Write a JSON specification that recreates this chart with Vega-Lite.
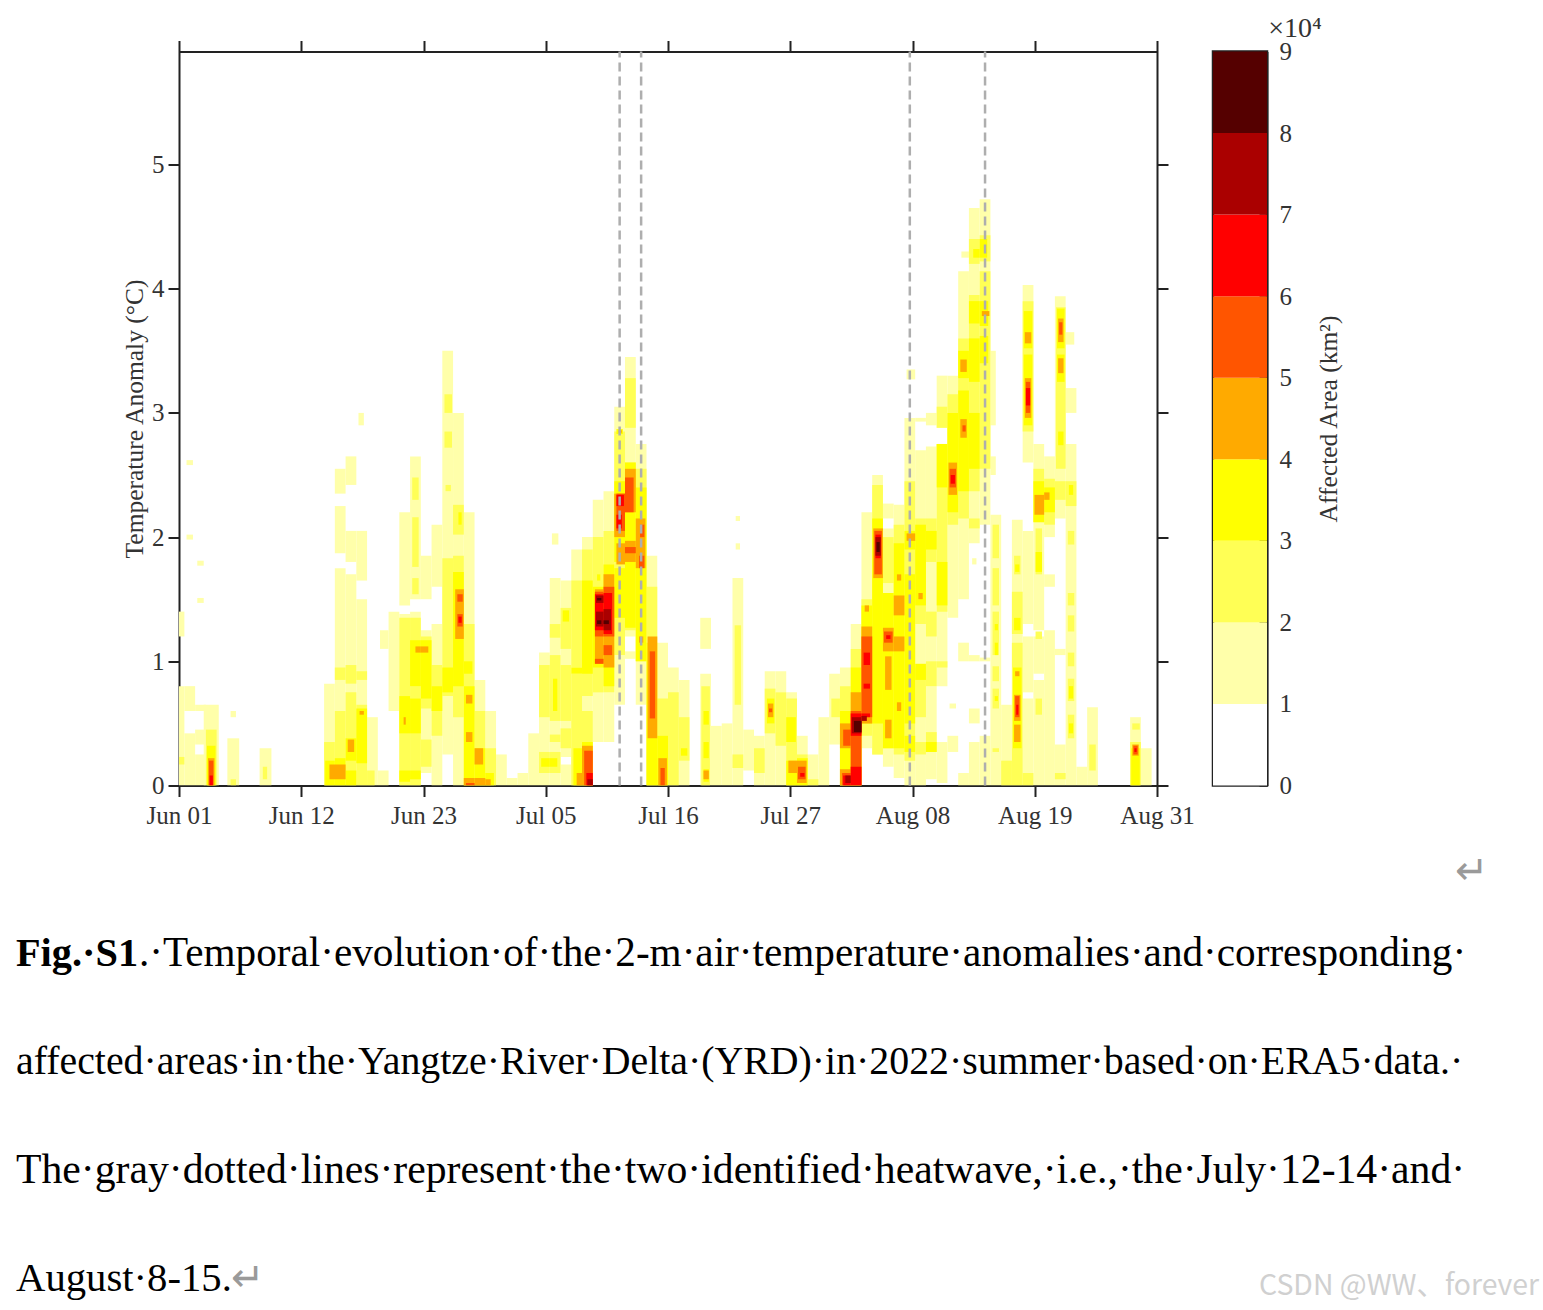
{"$schema":"https://vega.github.io/schema/vega-lite/v6.json","background":"white","padding":{"left":16,"top":12.5,"right":0,"bottom":0},"bounds":"flush","spacing":820,"config":{"view":{"stroke":null},"font":"Liberation Serif"},
"datasets":{"cells":[
{"s":-0.5,"e":0.5,"a":0,"b":0.8,"v":1},{"s":-0.5,"e":0.5,"a":1.2,"b":1.4,"v":1},{"s":-0.5,"e":0.5,"a":0.17,"b":0.23,"v":2},
{"s":0.5,"e":1.5,"a":0,"b":0.42,"v":1},{"s":0.5,"e":1.5,"a":0.6,"b":0.8,"v":1},{"s":0.7,"e":1.3,"a":2.58,"b":2.62,"v":1},{"s":0.7,"e":1.3,"a":1.98,"b":2.02,"v":1},
{"s":1.5,"e":2.5,"a":0,"b":0.25,"v":1},{"s":1.5,"e":2.5,"a":0.33,"b":0.45,"v":1},{"s":1.5,"e":2.5,"a":0.6,"b":0.65,"v":1},{"s":1.7,"e":2.3,"a":1.77,"b":1.81,"v":1},{"s":1.7,"e":2.3,"a":1.47,"b":1.51,"v":1},
{"s":2.3,"e":3.7,"a":0,"b":0.65,"v":1},{"s":2.5,"e":3.5,"a":0,"b":0.45,"v":2},{"s":2.6,"e":3.4,"a":0,"b":0.32,"v":3},{"s":2.7,"e":3.3,"a":0,"b":0.22,"v":4},{"s":2.8,"e":3.2,"a":0,"b":0.2,"v":5},{"s":2.85,"e":3.15,"a":0,"b":0.08,"v":6},
{"s":4.5,"e":5.6,"a":0,"b":0.38,"v":1},{"s":4.8,"e":5.3,"a":0.55,"b":0.6,"v":1},{"s":4.8,"e":5.3,"a":0,"b":0.05,"v":2},
{"s":7.5,"e":8.6,"a":0,"b":0.3,"v":1},{"s":7.8,"e":8.2,"a":0.05,"b":0.15,"v":2},
{"s":13.5,"e":14.5,"a":0,"b":0.82,"v":1},{"s":13.5,"e":14.5,"a":0,"b":0.35,"v":2},{"s":13.6,"e":14.5,"a":0,"b":0.2,"v":3},
{"s":14.5,"e":15.5,"a":0,"b":1.75,"v":1},{"s":14.5,"e":15.5,"a":1.87,"b":2.25,"v":1},{"s":14.5,"e":15.5,"a":2.35,"b":2.55,"v":1},{"s":14.5,"e":15.5,"a":0,"b":0.6,"v":2},{"s":14.5,"e":15.5,"a":0.85,"b":0.95,"v":2},{"s":14.5,"e":15.5,"a":0,"b":0.22,"v":3},{"s":14,"e":15.5,"a":0.05,"b":0.17,"v":4},
{"s":15.5,"e":16.5,"a":0,"b":1.7,"v":1},{"s":15.5,"e":16.5,"a":1.8,"b":2.05,"v":1},{"s":15.5,"e":16.5,"a":2.42,"b":2.65,"v":1},{"s":15.5,"e":16.5,"a":0,"b":0.75,"v":2},{"s":15.5,"e":16.5,"a":0.82,"b":0.97,"v":2},{"s":15.5,"e":16.5,"a":0,"b":0.12,"v":3},{"s":15.5,"e":16.5,"a":0.2,"b":0.38,"v":3},{"s":15.7,"e":16.3,"a":0.27,"b":0.37,"v":4},
{"s":16.5,"e":17.5,"a":0,"b":1.5,"v":1},{"s":16.5,"e":17.5,"a":1.65,"b":2.05,"v":1},{"s":16.7,"e":17.2,"a":2.9,"b":3.0,"v":1},{"s":16.5,"e":17.5,"a":0,"b":0.65,"v":2},{"s":16.5,"e":17.5,"a":0.85,"b":0.92,"v":2},{"s":16.5,"e":17.5,"a":0.18,"b":0.62,"v":3},{"s":16.8,"e":17.2,"a":0.57,"b":0.6,"v":4},
{"s":17.5,"e":18.5,"a":0,"b":0.55,"v":1},{"s":17.5,"e":18.2,"a":0,"b":0.12,"v":2},
{"s":18.5,"e":19.5,"a":0,"b":0.12,"v":1},{"s":18.7,"e":19.5,"a":1.1,"b":1.25,"v":1},
{"s":19.5,"e":20.5,"a":0.6,"b":1.4,"v":1},
{"s":20.5,"e":21.5,"a":0,"b":1.38,"v":1},{"s":20.5,"e":21.5,"a":1.45,"b":2.2,"v":1},{"s":20.5,"e":21.5,"a":0,"b":1.35,"v":2},{"s":20.5,"e":21.5,"a":0.42,"b":0.72,"v":3},{"s":20.5,"e":21.5,"a":0.03,"b":0.12,"v":3},{"s":20.9,"e":21.1,"a":0.49,"b":0.55,"v":4},
{"s":21.5,"e":22.5,"a":0,"b":1.4,"v":1},{"s":21.5,"e":22.5,"a":1.5,"b":2.65,"v":1},{"s":21.5,"e":22.5,"a":0,"b":1.35,"v":2},{"s":21.7,"e":22.3,"a":1.54,"b":1.67,"v":2},{"s":21.7,"e":22.3,"a":1.76,"b":2.16,"v":2},{"s":21.7,"e":22.3,"a":2.3,"b":2.48,"v":2},{"s":21.5,"e":22.5,"a":0.05,"b":0.12,"v":3},{"s":21.5,"e":22.5,"a":0.42,"b":0.7,"v":3},{"s":21.5,"e":22.5,"a":0.8,"b":1.17,"v":3},{"s":22,"e":22.5,"a":1.07,"b":1.12,"v":4},
{"s":22.5,"e":23.5,"a":0.1,"b":1.25,"v":1},{"s":22.5,"e":23.5,"a":1.5,"b":1.85,"v":1},{"s":22.5,"e":23.5,"a":0.15,"b":0.37,"v":2},{"s":22.5,"e":23.5,"a":0.62,"b":1.2,"v":2},{"s":22.5,"e":23.5,"a":0.7,"b":1.17,"v":3},{"s":22.5,"e":23.2,"a":1.07,"b":1.12,"v":4},
{"s":23.5,"e":24.5,"a":0,"b":1.3,"v":1},{"s":23.5,"e":24.5,"a":1.6,"b":2.1,"v":1},{"s":23.5,"e":24.5,"a":0.4,"b":0.97,"v":2},{"s":23.5,"e":24.5,"a":0.6,"b":0.8,"v":3},
{"s":24.5,"e":25.5,"a":0.25,"b":3.5,"v":1},{"s":24.5,"e":25.5,"a":0.72,"b":1.83,"v":2},{"s":24.8,"e":25.3,"a":2.37,"b":2.42,"v":2},{"s":24.7,"e":25.4,"a":2.72,"b":2.85,"v":2},{"s":24.7,"e":25.4,"a":3.0,"b":3.15,"v":2},{"s":24.5,"e":25.5,"a":0.75,"b":0.95,"v":3},
{"s":25.5,"e":26.5,"a":0,"b":3.0,"v":1},{"s":25.5,"e":26.5,"a":0.55,"b":1.85,"v":2},{"s":25.5,"e":26.5,"a":2.02,"b":2.26,"v":2},{"s":25.5,"e":26.5,"a":0.8,"b":1.72,"v":3},{"s":26,"e":26.3,"a":2.1,"b":2.2,"v":3},{"s":25.7,"e":26.5,"a":1.18,"b":1.58,"v":4},{"s":25.9,"e":26.4,"a":1.28,"b":1.38,"v":5},{"s":25.9,"e":26.4,"a":1.48,"b":1.54,"v":5},{"s":26,"e":26.3,"a":1.31,"b":1.36,"v":6},
{"s":26.5,"e":27.5,"a":0,"b":2.2,"v":1},{"s":26.5,"e":27.5,"a":0,"b":1.3,"v":2},{"s":26.5,"e":27.5,"a":0,"b":0.8,"v":3},{"s":26.5,"e":27.3,"a":0.9,"b":1.0,"v":3},{"s":26.7,"e":27.3,"a":0.66,"b":0.73,"v":4},{"s":26.7,"e":27.3,"a":0.35,"b":0.43,"v":4},{"s":26.5,"e":27.5,"a":0,"b":0.06,"v":4},{"s":26.7,"e":27.5,"a":0,"b":0.02,"v":5},
{"s":27.5,"e":28.5,"a":0,"b":0.85,"v":1},{"s":27.5,"e":28.5,"a":0,"b":0.6,"v":2},{"s":27.5,"e":28.5,"a":0,"b":0.3,"v":3},{"s":27.5,"e":28.3,"a":0.17,"b":0.3,"v":4},{"s":27.5,"e":28.5,"a":0,"b":0.06,"v":4},
{"s":28.5,"e":29.5,"a":0,"b":0.6,"v":1},{"s":28.5,"e":29.5,"a":0,"b":0.3,"v":2},{"s":28.5,"e":29.3,"a":0,"b":0.1,"v":3},{"s":28.5,"e":29,"a":0,"b":0.05,"v":4},
{"s":29.5,"e":30.5,"a":0,"b":0.25,"v":1},{"s":30.5,"e":31.5,"a":0,"b":0.06,"v":1},{"s":31.5,"e":32.5,"a":0,"b":0.1,"v":1},
{"s":32.5,"e":33.5,"a":0,"b":0.42,"v":1},
{"s":33.5,"e":34.5,"a":0,"b":1.07,"v":1},{"s":33.5,"e":34.5,"a":0.1,"b":0.27,"v":2},{"s":33.5,"e":34.5,"a":0.55,"b":0.97,"v":2},{"s":33.7,"e":34.5,"a":0.15,"b":0.22,"v":3},
{"s":34.5,"e":35.5,"a":0,"b":1.67,"v":1},{"s":34.7,"e":35.3,"a":1.94,"b":2.03,"v":1},{"s":34.5,"e":35.5,"a":0.1,"b":0.27,"v":2},{"s":34.5,"e":35.5,"a":0.35,"b":0.41,"v":2},{"s":34.5,"e":35.5,"a":0.52,"b":1.05,"v":2},{"s":34.5,"e":35.5,"a":1.19,"b":1.3,"v":2},{"s":34.8,"e":35.2,"a":0.6,"b":0.86,"v":3},{"s":34.5,"e":35.2,"a":0.15,"b":0.22,"v":3},
{"s":35.5,"e":36.5,"a":0,"b":0.17,"v":1},{"s":35.5,"e":36.5,"a":0.23,"b":1.65,"v":1},{"s":35.5,"e":36.5,"a":0.3,"b":0.46,"v":2},{"s":35.5,"e":36.5,"a":0.52,"b":0.97,"v":2},{"s":35.5,"e":36.5,"a":1.1,"b":1.43,"v":2},{"s":35.7,"e":36.3,"a":1.32,"b":1.41,"v":3},
{"s":36.5,"e":37.5,"a":0,"b":1.9,"v":1},{"s":36.5,"e":37.5,"a":0,"b":0.9,"v":2},{"s":36.5,"e":37.5,"a":0.95,"b":1.65,"v":2},{"s":36.7,"e":37.5,"a":0,"b":0.3,"v":3},{"s":36.5,"e":37.5,"a":0.9,"b":0.95,"v":3},{"s":37,"e":37.5,"a":0,"b":0.1,"v":4},
{"s":37.5,"e":38.5,"a":0,"b":2.0,"v":1},{"s":37.5,"e":38.5,"a":0,"b":0.6,"v":2},{"s":37.5,"e":38.5,"a":0.72,"b":1.9,"v":2},{"s":37.5,"e":38.5,"a":0,"b":0.35,"v":3},{"s":37.5,"e":38.5,"a":0.9,"b":1.65,"v":3},{"s":37.5,"e":38.5,"a":0,"b":0.32,"v":4},{"s":37.7,"e":38.5,"a":0,"b":0.28,"v":5},{"s":37.9,"e":38.5,"a":0,"b":0.1,"v":6},{"s":38,"e":38.5,"a":0,"b":0.05,"v":7},
{"s":38.5,"e":39.5,"a":0.35,"b":2.3,"v":1},{"s":38.5,"e":39.5,"a":0.75,"b":1.15,"v":2},{"s":38.5,"e":39.5,"a":1.28,"b":2.0,"v":2},{"s":38.5,"e":39.5,"a":0.95,"b":1.6,"v":3},{"s":38.9,"e":39.2,"a":1.65,"b":1.7,"v":3},{"s":38.7,"e":39.5,"a":0.98,"b":1.58,"v":4},{"s":38.7,"e":39.5,"a":1.2,"b":1.56,"v":5},{"s":38.7,"e":39.5,"a":0.98,"b":1.02,"v":5},{"s":38.7,"e":39.5,"a":1.25,"b":1.54,"v":6},{"s":38.8,"e":39.5,"a":1.47,"b":1.53,"v":7},{"s":38.8,"e":39.5,"a":1.28,"b":1.4,"v":7},{"s":38.9,"e":39.3,"a":1.49,"b":1.51,"v":8},{"s":38.9,"e":39.3,"a":1.3,"b":1.33,"v":8},
{"s":39.5,"e":40.5,"a":0.35,"b":2.37,"v":1},{"s":39.5,"e":40.5,"a":0.75,"b":2.05,"v":2},{"s":39.5,"e":40.5,"a":0.8,"b":1.78,"v":3},{"s":39.5,"e":40.5,"a":0.95,"b":1.7,"v":4},{"s":39.5,"e":40.3,"a":1.05,"b":1.13,"v":5},{"s":39.5,"e":40.5,"a":1.2,"b":1.6,"v":5},{"s":39.5,"e":40.3,"a":1.22,"b":1.55,"v":6},{"s":39.5,"e":40.2,"a":1.25,"b":1.42,"v":7},{"s":39.5,"e":40,"a":1.3,"b":1.33,"v":8},
{"s":40.5,"e":41.5,"a":0.65,"b":3.05,"v":1},{"s":40.5,"e":41.5,"a":1.05,"b":2.85,"v":2},{"s":40.5,"e":41.5,"a":1.35,"b":1.75,"v":3},{"s":40.5,"e":41.5,"a":1.8,"b":2.45,"v":3},{"s":40.7,"e":41.3,"a":2.83,"b":2.87,"v":3},{"s":40.7,"e":41.5,"a":1.78,"b":1.95,"v":4},{"s":40.5,"e":41.5,"a":2.0,"b":2.35,"v":4},{"s":40.9,"e":41.2,"a":2.84,"b":2.86,"v":4},{"s":40.7,"e":41.5,"a":2.05,"b":2.35,"v":5},{"s":40.7,"e":41.2,"a":2.07,"b":2.18,"v":6},{"s":40.7,"e":41.4,"a":2.25,"b":2.34,"v":6},
{"s":41.5,"e":42.5,"a":1.02,"b":1.08,"v":1},{"s":41.5,"e":42.5,"a":1.2,"b":3.45,"v":1},{"s":41.5,"e":42.5,"a":1.25,"b":2.6,"v":2},{"s":41.5,"e":42.5,"a":2.88,"b":3.28,"v":2},{"s":41.5,"e":42.5,"a":1.27,"b":2.6,"v":3},{"s":41.5,"e":42.5,"a":1.8,"b":1.97,"v":4},{"s":41.5,"e":42.5,"a":2.2,"b":2.55,"v":4},{"s":41.5,"e":42.5,"a":1.87,"b":1.92,"v":5},{"s":41.5,"e":42.3,"a":2.2,"b":2.48,"v":5},
{"s":42.5,"e":43.5,"a":0.65,"b":2.75,"v":1},{"s":42.5,"e":43.5,"a":1.0,"b":2.55,"v":2},{"s":42.5,"e":43.5,"a":1.0,"b":2.4,"v":3},{"s":42.5,"e":43.4,"a":1.75,"b":2.15,"v":4},{"s":42.8,"e":43.2,"a":1.15,"b":1.2,"v":4},{"s":42.8,"e":43.3,"a":1.75,"b":1.85,"v":5},{"s":42.9,"e":43.3,"a":2.0,"b":2.1,"v":5},
{"s":43.5,"e":44.5,"a":0,"b":1.85,"v":1},{"s":43.5,"e":44.5,"a":0,"b":1.6,"v":2},{"s":43.5,"e":44.5,"a":0,"b":1.15,"v":3},{"s":43.6,"e":44.5,"a":0.38,"b":1.2,"v":4},{"s":43.8,"e":44.3,"a":0.54,"b":1.08,"v":5},
{"s":44.5,"e":45.5,"a":0,"b":1.15,"v":1},{"s":44.5,"e":45.5,"a":0,"b":0.7,"v":2},{"s":44.5,"e":45.5,"a":0,"b":0.4,"v":3},{"s":44.6,"e":45.4,"a":0,"b":0.22,"v":4},{"s":44.8,"e":45.2,"a":0,"b":0.14,"v":5},
{"s":45.5,"e":46.5,"a":0,"b":0.95,"v":1},{"s":45.5,"e":46.5,"a":0,"b":0.75,"v":2},
{"s":46.5,"e":47.5,"a":0,"b":0.85,"v":1},{"s":46.5,"e":47.5,"a":0.2,"b":0.55,"v":2},{"s":46.7,"e":47.3,"a":0.24,"b":0.3,"v":3},
{"s":48.5,"e":49.5,"a":0,"b":0.9,"v":1},{"s":48.5,"e":49.5,"a":1.1,"b":1.35,"v":1},{"s":48.6,"e":49.4,"a":0,"b":0.8,"v":2},{"s":48.8,"e":49.3,"a":0.03,"b":0.13,"v":3},{"s":48.8,"e":49.3,"a":0.22,"b":0.35,"v":3},{"s":48.8,"e":49.3,"a":0.49,"b":0.6,"v":3},{"s":48.8,"e":49.3,"a":0.05,"b":0.12,"v":4},
{"s":49.5,"e":50.5,"a":0,"b":0.48,"v":1},{"s":50.5,"e":51.5,"a":0,"b":0.5,"v":1},
{"s":51.5,"e":52.5,"a":0,"b":1.67,"v":1},{"s":51.8,"e":52.2,"a":2.13,"b":2.17,"v":1},{"s":51.8,"e":52.2,"a":1.9,"b":1.95,"v":1},{"s":51.7,"e":52.3,"a":0.65,"b":1.29,"v":2},{"s":51.5,"e":52.5,"a":0.14,"b":0.25,"v":2},
{"s":52.5,"e":53.5,"a":0.12,"b":0.45,"v":1},{"s":53.5,"e":54.5,"a":0,"b":0.4,"v":1},{"s":53.5,"e":54.5,"a":0.1,"b":0.3,"v":2},
{"s":54.5,"e":55.5,"a":0,"b":0.92,"v":1},{"s":54.5,"e":55.5,"a":0.42,"b":0.78,"v":2},{"s":54.7,"e":55.4,"a":0.5,"b":0.7,"v":3},{"s":54.8,"e":55.3,"a":0.55,"b":0.66,"v":4},{"s":54.9,"e":55.2,"a":0.59,"b":0.62,"v":5},
{"s":55.5,"e":56.5,"a":0,"b":0.92,"v":1},{"s":55.5,"e":56.5,"a":0.32,"b":0.75,"v":2},
{"s":56.5,"e":57.5,"a":0,"b":0.75,"v":1},{"s":56.5,"e":57.5,"a":0,"b":0.7,"v":2},{"s":56.5,"e":57.5,"a":0,"b":0.2,"v":3},{"s":56.5,"e":57.4,"a":0.35,"b":0.55,"v":3},{"s":56.7,"e":57.5,"a":0.1,"b":0.2,"v":4},
{"s":57.5,"e":58.5,"a":0,"b":0.4,"v":1},{"s":57.5,"e":58.5,"a":0,"b":0.25,"v":2},{"s":57.5,"e":58.5,"a":0,"b":0.22,"v":3},{"s":57.5,"e":58.4,"a":0.02,"b":0.2,"v":4},{"s":57.6,"e":58.3,"a":0.05,"b":0.15,"v":5},{"s":57.8,"e":58.2,"a":0.07,"b":0.1,"v":6},
{"s":58.5,"e":59.5,"a":0,"b":0.25,"v":1},{"s":58.5,"e":59.5,"a":0,"b":0.05,"v":2},
{"s":59.5,"e":60.5,"a":0,"b":0.55,"v":1},
{"s":60.5,"e":61.5,"a":0.33,"b":0.9,"v":1},{"s":60.7,"e":61.5,"a":0.55,"b":0.7,"v":2},
{"s":61.5,"e":62.5,"a":0,"b":0.95,"v":1},{"s":61.5,"e":62.5,"a":0,"b":0.8,"v":2},{"s":61.5,"e":62.5,"a":0,"b":0.6,"v":3},{"s":61.5,"e":62.5,"a":0,"b":0.13,"v":4},{"s":61.5,"e":62.5,"a":0.3,"b":0.5,"v":4},{"s":61.7,"e":62.5,"a":0,"b":0.1,"v":5},{"s":61.8,"e":62.5,"a":0.32,"b":0.45,"v":5},{"s":61.8,"e":62.5,"a":0,"b":0.08,"v":6},{"s":62,"e":62.5,"a":0.02,"b":0.08,"v":7},
{"s":62.5,"e":63.5,"a":0,"b":1.3,"v":1},{"s":62.5,"e":63.5,"a":0,"b":1.1,"v":2},{"s":62.5,"e":63.5,"a":0,"b":0.95,"v":3},{"s":62.5,"e":63.5,"a":0,"b":0.75,"v":4},{"s":62.5,"e":63.5,"a":0,"b":0.6,"v":5},{"s":62.5,"e":63.5,"a":0,"b":0.15,"v":6},{"s":62.5,"e":63.5,"a":0.4,"b":0.58,"v":6},{"s":62.6,"e":63.5,"a":0.42,"b":0.55,"v":7},{"s":62.8,"e":63.5,"a":0.43,"b":0.52,"v":8},
{"s":63.5,"e":64.5,"a":0.3,"b":2.2,"v":1},{"s":63.5,"e":64.5,"a":0.4,"b":1.5,"v":2},{"s":63.5,"e":64.5,"a":0.5,"b":1.45,"v":3},{"s":63.5,"e":64.5,"a":0.5,"b":1.28,"v":4},{"s":63.8,"e":64.2,"a":1.4,"b":1.45,"v":4},{"s":63.5,"e":64.5,"a":0.55,"b":1.2,"v":5},{"s":63.7,"e":64.3,"a":0.97,"b":1.07,"v":6},{"s":63.7,"e":64.3,"a":0.78,"b":0.82,"v":6},{"s":63.5,"e":64.3,"a":0.55,"b":0.58,"v":6},{"s":63.5,"e":64,"a":0.52,"b":0.56,"v":7},
{"s":64.5,"e":65.5,"a":0.25,"b":2.5,"v":1},{"s":64.5,"e":65.5,"a":0.25,"b":2.42,"v":2},{"s":64.5,"e":65.5,"a":0.5,"b":2.15,"v":3},{"s":64.6,"e":65.5,"a":1.67,"b":2.07,"v":4},{"s":64.7,"e":65.4,"a":1.7,"b":2.05,"v":5},{"s":64.8,"e":65.3,"a":1.83,"b":2.02,"v":6},{"s":64.8,"e":65.3,"a":1.85,"b":2.0,"v":7},{"s":64.9,"e":65.2,"a":1.88,"b":1.96,"v":8},
{"s":65.5,"e":66.5,"a":0.15,"b":2.07,"v":1},{"s":65.5,"e":66.5,"a":2.15,"b":2.27,"v":1},{"s":65.5,"e":66.5,"a":0.3,"b":1.55,"v":2},{"s":65.5,"e":66.5,"a":1.63,"b":2.0,"v":2},{"s":65.5,"e":66.5,"a":0.3,"b":1.55,"v":3},{"s":65.7,"e":66.3,"a":0.38,"b":0.53,"v":4},{"s":65.7,"e":66.3,"a":0.77,"b":1.04,"v":4},{"s":65.5,"e":66.5,"a":1.08,"b":1.27,"v":4},{"s":65.6,"e":66.4,"a":1.15,"b":1.24,"v":5},{"s":65.8,"e":66.2,"a":1.18,"b":1.21,"v":6},
{"s":66.5,"e":67.5,"a":0.06,"b":2.26,"v":1},{"s":66.5,"e":67.5,"a":0.25,"b":2.1,"v":2},{"s":66.5,"e":67.5,"a":0.3,"b":1.95,"v":3},{"s":66.5,"e":67.5,"a":1.08,"b":1.2,"v":4},{"s":66.5,"e":67.5,"a":1.37,"b":1.53,"v":4},{"s":66.8,"e":67.2,"a":1.65,"b":1.7,"v":4},{"s":66.8,"e":67.2,"a":0.6,"b":0.67,"v":4},
{"s":67.5,"e":68.5,"a":0,"b":2.96,"v":1},{"s":67.7,"e":68.5,"a":3.27,"b":3.35,"v":1},{"s":67.5,"e":68.5,"a":0.2,"b":2.45,"v":2},{"s":67.5,"e":68.5,"a":0.27,"b":0.4,"v":3},{"s":67.5,"e":68.5,"a":0.5,"b":1.7,"v":3},{"s":67.5,"e":68.5,"a":1.9,"b":2.05,"v":3},{"s":67.7,"e":68.5,"a":1.97,"b":2.03,"v":4},
{"s":68.5,"e":69.5,"a":0,"b":2.7,"v":1},{"s":68.5,"e":69.5,"a":2.93,"b":2.96,"v":1},{"s":68.5,"e":69.5,"a":0.25,"b":0.35,"v":2},{"s":68.5,"e":69.5,"a":0.55,"b":0.95,"v":2},{"s":68.5,"e":69.5,"a":1.3,"b":2.15,"v":2},{"s":68.5,"e":69.5,"a":0.85,"b":0.98,"v":3},{"s":68.5,"e":69.5,"a":1.45,"b":2.1,"v":3},{"s":68.8,"e":69.2,"a":1.5,"b":1.55,"v":4},
{"s":69.5,"e":70.5,"a":0.05,"b":2.73,"v":1},{"s":69.5,"e":70.5,"a":2.9,"b":3.0,"v":1},{"s":69.5,"e":70.5,"a":0.27,"b":0.43,"v":2},{"s":69.5,"e":70.5,"a":0.8,"b":1.0,"v":2},{"s":69.5,"e":70.5,"a":1.2,"b":1.4,"v":2},{"s":69.5,"e":70.5,"a":1.8,"b":2.15,"v":2},{"s":69.5,"e":70.5,"a":0.27,"b":0.35,"v":3},{"s":69.5,"e":70.5,"a":1.9,"b":2.05,"v":3},
{"s":70.5,"e":71.5,"a":0.02,"b":0.35,"v":1},{"s":70.5,"e":71.5,"a":0.8,"b":2.75,"v":1},{"s":70.5,"e":71.5,"a":2.88,"b":3.3,"v":1},{"s":70.5,"e":71.5,"a":0.95,"b":1.0,"v":2},{"s":70.5,"e":71.5,"a":1.4,"b":2.75,"v":2},{"s":70.5,"e":71.5,"a":2.88,"b":3.05,"v":2},{"s":70.5,"e":71.5,"a":1.45,"b":1.8,"v":3},{"s":70.5,"e":71.5,"a":2.4,"b":2.75,"v":3},
{"s":71.5,"e":72.5,"a":1.35,"b":3.3,"v":1},{"s":71.5,"e":72.5,"a":0.27,"b":0.4,"v":1},{"s":71.7,"e":72.3,"a":0.62,"b":0.66,"v":1},{"s":71.5,"e":72.5,"a":2.1,"b":3.15,"v":2},{"s":71.5,"e":72.5,"a":2.2,"b":3.0,"v":3},{"s":71.6,"e":72.4,"a":2.34,"b":2.6,"v":4},{"s":71.7,"e":72.3,"a":2.4,"b":2.55,"v":5},{"s":71.8,"e":72.2,"a":2.43,"b":2.5,"v":6},
{"s":72.5,"e":73.5,"a":1.5,"b":4.14,"v":1},{"s":72.8,"e":73.5,"a":4.25,"b":4.3,"v":1},{"s":72.5,"e":73.5,"a":1.0,"b":1.15,"v":1},{"s":72.5,"e":73.5,"a":0,"b":0.1,"v":1},{"s":72.5,"e":73.5,"a":2.15,"b":3.6,"v":2},{"s":72.5,"e":73.5,"a":2.37,"b":3.18,"v":3},{"s":72.5,"e":73.5,"a":3.28,"b":3.5,"v":3},{"s":72.7,"e":73.3,"a":2.8,"b":2.95,"v":4},{"s":72.7,"e":73.3,"a":3.33,"b":3.43,"v":4},{"s":72.9,"e":73.2,"a":2.85,"b":2.9,"v":5},
{"s":73.5,"e":74.5,"a":0,"b":0.35,"v":1},{"s":73.5,"e":74.5,"a":0.5,"b":0.62,"v":1},{"s":73.5,"e":74.5,"a":1.0,"b":1.05,"v":1},{"s":73.8,"e":74.2,"a":1.78,"b":1.83,"v":1},{"s":73.5,"e":74.5,"a":1.95,"b":4.65,"v":1},{"s":73.5,"e":74.5,"a":2.07,"b":2.15,"v":2},{"s":73.5,"e":74.5,"a":2.37,"b":3.95,"v":2},{"s":73.5,"e":74.5,"a":4.2,"b":4.4,"v":2},{"s":73.5,"e":74.5,"a":2.55,"b":3.0,"v":3},{"s":73.5,"e":74.5,"a":3.25,"b":3.6,"v":3},{"s":73.5,"e":74.5,"a":3.72,"b":3.9,"v":3},{"s":73.9,"e":74.5,"a":4.25,"b":4.32,"v":3},
{"s":74.5,"e":75.5,"a":0,"b":0.4,"v":1},{"s":74.5,"e":75.5,"a":1.0,"b":1.03,"v":1},{"s":74.5,"e":75.5,"a":2.1,"b":4.72,"v":1},{"s":74.5,"e":75.5,"a":2.55,"b":4.14,"v":2},{"s":74.5,"e":75.5,"a":4.22,"b":4.43,"v":2},{"s":74.5,"e":75.3,"a":3.4,"b":3.62,"v":3},{"s":74.5,"e":75.3,"a":3.7,"b":3.9,"v":3},{"s":74.5,"e":75.2,"a":4.25,"b":4.4,"v":3},{"s":74.7,"e":75.4,"a":3.78,"b":3.82,"v":4},
{"s":75.5,"e":76.5,"a":0,"b":2.18,"v":1},{"s":75.5,"e":76,"a":2.5,"b":2.65,"v":1},{"s":75.5,"e":76,"a":2.9,"b":3.5,"v":1},{"s":75.7,"e":76.3,"a":0.27,"b":0.3,"v":2},{"s":75.7,"e":76.3,"a":0.62,"b":0.78,"v":2},{"s":75.7,"e":76.3,"a":0.84,"b":0.96,"v":2},{"s":75.7,"e":76.3,"a":1.05,"b":1.4,"v":2},{"s":75.7,"e":76.3,"a":1.45,"b":1.75,"v":2},{"s":75.7,"e":76.3,"a":1.83,"b":2.1,"v":2},{"s":75.9,"e":76.2,"a":0.68,"b":0.72,"v":3},{"s":75.9,"e":76.2,"a":1.05,"b":1.15,"v":3},{"s":75.9,"e":76.2,"a":1.25,"b":1.3,"v":3},
{"s":76.5,"e":77.5,"a":0,"b":0.65,"v":1},{"s":76.5,"e":77.5,"a":0,"b":0.2,"v":2},
{"s":77.5,"e":78.5,"a":0,"b":2.14,"v":1},{"s":77.5,"e":78.5,"a":0,"b":1.15,"v":2},{"s":77.5,"e":78.5,"a":1.22,"b":1.56,"v":2},{"s":77.7,"e":78.3,"a":1.7,"b":1.85,"v":2},{"s":77.6,"e":78.4,"a":0.3,"b":0.95,"v":3},{"s":77.7,"e":78.3,"a":1.25,"b":1.35,"v":3},{"s":77.8,"e":78.2,"a":1.72,"b":1.78,"v":3},{"s":77.7,"e":78.3,"a":0.35,"b":0.49,"v":4},{"s":77.7,"e":78.3,"a":0.52,"b":0.73,"v":4},{"s":77.8,"e":78.2,"a":0.88,"b":0.92,"v":4},{"s":77.8,"e":78.2,"a":0.55,"b":0.72,"v":5},{"s":77.9,"e":78.1,"a":0.57,"b":0.65,"v":6},
{"s":78.5,"e":79.5,"a":0,"b":0.7,"v":1},{"s":78.5,"e":79.5,"a":0.75,"b":1.2,"v":1},{"s":78.5,"e":79.5,"a":1.3,"b":2.05,"v":1},{"s":78.5,"e":79.5,"a":2.6,"b":4.03,"v":1},{"s":78.5,"e":79.5,"a":0,"b":0.1,"v":2},{"s":78.5,"e":79.5,"a":2.85,"b":3.9,"v":2},{"s":78.6,"e":79.4,"a":2.9,"b":3.47,"v":3},{"s":78.6,"e":79.4,"a":3.52,"b":3.82,"v":3},{"s":78.7,"e":79.3,"a":2.96,"b":3.28,"v":4},{"s":78.7,"e":79.3,"a":3.56,"b":3.65,"v":4},{"s":78.8,"e":79.2,"a":3.0,"b":3.25,"v":5},{"s":78.8,"e":79.2,"a":3.06,"b":3.2,"v":6},
{"s":79.5,"e":80.5,"a":0,"b":0.85,"v":1},{"s":79.5,"e":80.5,"a":0.9,"b":1.2,"v":1},{"s":79.5,"e":80.5,"a":1.25,"b":2.75,"v":1},{"s":79.7,"e":80.3,"a":0.57,"b":0.7,"v":2},{"s":79.7,"e":80.3,"a":1.18,"b":1.24,"v":2},{"s":79.7,"e":80.3,"a":1.7,"b":2.07,"v":2},{"s":79.5,"e":80.5,"a":2.12,"b":2.55,"v":2},{"s":79.7,"e":80.3,"a":1.72,"b":1.88,"v":3},{"s":79.5,"e":80.5,"a":2.12,"b":2.45,"v":3},{"s":79.6,"e":80.5,"a":2.18,"b":2.34,"v":4},
{"s":80.5,"e":81.5,"a":0,"b":1.25,"v":1},{"s":80.5,"e":81.5,"a":1.6,"b":1.7,"v":1},{"s":80.5,"e":81.5,"a":2.0,"b":2.65,"v":1},{"s":80.5,"e":81.5,"a":2.1,"b":2.47,"v":2},{"s":80.5,"e":81.5,"a":2.2,"b":2.4,"v":3},{"s":80.5,"e":81,"a":2.3,"b":2.36,"v":4},
{"s":81.5,"e":82.5,"a":0,"b":0.33,"v":1},{"s":81.5,"e":82.5,"a":1.05,"b":1.1,"v":1},{"s":81.5,"e":82.5,"a":2.15,"b":3.94,"v":1},{"s":81.5,"e":82.5,"a":0.05,"b":0.1,"v":2},{"s":81.5,"e":82.5,"a":2.3,"b":2.45,"v":2},{"s":81.6,"e":82.5,"a":2.55,"b":3.85,"v":2},{"s":81.8,"e":82.3,"a":2.74,"b":2.85,"v":3},{"s":81.7,"e":82.4,"a":3.25,"b":3.47,"v":3},{"s":81.7,"e":82.4,"a":3.52,"b":3.84,"v":3},{"s":81.8,"e":82.3,"a":3.32,"b":3.44,"v":4},{"s":81.8,"e":82.3,"a":3.57,"b":3.76,"v":4},{"s":81.9,"e":82.2,"a":3.63,"b":3.73,"v":5},
{"s":82.5,"e":83.5,"a":0,"b":2.75,"v":1},{"s":82.5,"e":83.5,"a":3.0,"b":3.2,"v":1},{"s":82.5,"e":83.3,"a":3.55,"b":3.65,"v":1},{"s":82.7,"e":83.3,"a":0.38,"b":0.57,"v":2},{"s":82.7,"e":83.3,"a":0.68,"b":0.86,"v":2},{"s":82.7,"e":83.3,"a":0.96,"b":1.07,"v":2},{"s":82.7,"e":83.3,"a":1.24,"b":1.37,"v":2},{"s":82.7,"e":83.3,"a":1.45,"b":1.55,"v":2},{"s":82.7,"e":83.3,"a":1.94,"b":2.05,"v":2},{"s":82.5,"e":83.5,"a":2.25,"b":2.45,"v":2},{"s":82.8,"e":83.2,"a":0.42,"b":0.5,"v":3},{"s":82.8,"e":83.2,"a":0.7,"b":0.8,"v":3},{"s":82.8,"e":83.2,"a":2.34,"b":2.42,"v":3},
{"s":83.5,"e":84.5,"a":0,"b":0.15,"v":1},
{"s":84.5,"e":85.5,"a":0,"b":0.63,"v":1},{"s":84.7,"e":85.3,"a":0.12,"b":0.33,"v":2},
{"s":88.5,"e":89.5,"a":0,"b":0.55,"v":1},{"s":88.5,"e":89.5,"a":0,"b":0.35,"v":2},{"s":88.7,"e":89.4,"a":0.45,"b":0.5,"v":2},{"s":88.6,"e":89.4,"a":0,"b":0.3,"v":3},{"s":88.7,"e":89.3,"a":0.24,"b":0.33,"v":4},{"s":88.8,"e":89.2,"a":0.25,"b":0.32,"v":5},{"s":88.9,"e":89.1,"a":0.27,"b":0.3,"v":6},
{"s":89.5,"e":90.5,"a":0,"b":0.3,"v":1}
]},
"vconcat":[
{"hconcat":[
{"width":978,"height":734,"layer":[
{"data":{"name":"cells"},"mark":{"type":"rect","clip":true,"strokeWidth":0},"encoding":{
"x":{"field":"s","type":"quantitative","scale":{"domain":[0,91],"nice":false,"zero":false},"axis":{"orient":"bottom","title":null,"values":[0,11.375,22.75,34.125,45.5,56.875,68.25,79.625,91],"labelExpr":"['Jun 01','Jun 12','Jun 23','Jul 05','Jul 16','Jul 27','Aug 08','Aug 19','Aug 31'][round(datum.value/11.375)]","labelFlush":false,"grid":false,"domainColor":"#222","domainWidth":2,"tickColor":"#222","tickWidth":2,"tickSize":11,"labelFont":"Liberation Serif","labelFontSize":25,"labelColor":"#333","labelPadding":7}},
"x2":{"field":"e"},
"y":{"field":"a","type":"quantitative","scale":{"domain":[0,5.91],"nice":false,"zero":false},"axis":{"orient":"left","title":"Temperature Anomaly (°C)","values":[0,1,2,3,4,5],"grid":false,"domainColor":"#222","domainWidth":2,"tickColor":"#222","tickWidth":2,"tickSize":11,"labelFont":"Liberation Serif","labelFontSize":25,"labelColor":"#333","labelPadding":4,"titleFont":"Liberation Serif","titleFontSize":25.5,"titleFontWeight":"normal","titleColor":"#333","titlePadding":4}},
"y2":{"field":"b"},
"color":{"field":"v","type":"ordinal","legend":null,"scale":{"domain":[0,1,2,3,4,5,6,7,8],"range":["#FFFFFF","#FFFFAA","#FFFF55","#FFFF00","#FFAA00","#FF5500","#FF0000","#AA0000","#550000"]}},
"order":{"field":"v","type":"quantitative"}}},
{"data":{"values":[{"day":41},{"day":43},{"day":68},{"day":75}]},"mark":{"type":"rule","color":"#AEAEAE","strokeWidth":2.5,"strokeDash":[9,5]},"encoding":{
"x":{"field":"day","type":"quantitative","axis":{"orient":"top","title":null,"labels":false,"values":[0,11.375,22.75,34.125,45.5,56.875,68.25,79.625,91],"grid":false,"domainColor":"#222","domainWidth":2,"tickColor":"#222","tickWidth":2,"tickSize":11}},
"y":{"datum":0,"type":"quantitative","axis":{"orient":"right","title":null,"labels":false,"values":[0,1,2,3,4,5],"grid":false,"domainColor":"#222","domainWidth":2,"tickColor":"#222","tickWidth":2,"tickSize":11}},
"y2":{"datum":5.91}}}
],"resolve":{"axis":{"x":"independent","y":"independent"}}},
{"width":54,"height":734,"view":{"stroke":"#222","strokeWidth":2.5},"layer":[
{"data":{"values":[{"v":0,"t":1},{"v":1,"t":2},{"v":2,"t":3},{"v":3,"t":4},{"v":4,"t":5},{"v":5,"t":6},{"v":6,"t":7},{"v":7,"t":8},{"v":8,"t":9}]},"mark":{"type":"rect","strokeWidth":0},"encoding":{
"x":{"datum":0,"type":"quantitative","scale":{"domain":[0,1],"nice":false},"axis":null},"x2":{"datum":1},
"y":{"field":"v","type":"quantitative","scale":{"domain":[0,9],"nice":false},"axis":{"orient":"right","title":"Affected Area (km²)","values":[0,1,2,3,4,5,6,7,8,9],"format":".0f","grid":false,"domainColor":"#222","domainWidth":2,"tickColor":"#222","tickWidth":1.5,"tickSize":-8,"labelFont":"Liberation Serif","labelFontSize":25,"labelColor":"#333","labelPadding":20,"titleFont":"Liberation Serif","titleFontSize":25.5,"titleFontWeight":"normal","titleColor":"#333","titleAngle":270,"titlePadding":50}},
"y2":{"field":"t"},
"color":{"field":"v","type":"ordinal","legend":null,"scale":{"domain":[0,1,2,3,4,5,6,7,8],"range":["#FFFFFF","#FFFFAA","#FFFF55","#FFFF00","#FFAA00","#FF5500","#FF0000","#AA0000","#550000"]}}}},
{"data":{"values":[{"t":"×10⁴"}]},"mark":{"type":"text","font":"Liberation Serif","fontSize":28,"color":"#333","clip":false},"encoding":{"x":{"datum":1.52,"type":"quantitative"},"y":{"datum":9.28,"type":"quantitative"},"text":{"field":"t"}}}
]}
],"spacing":56,"bounds":"flush"},
{"width":1364,"height":430,"encoding":{"x":{"datum":16,"type":"quantitative","scale":{"domain":[179,1543],"nice":false,"zero":false},"axis":null},"y":{"field":"line","type":"quantitative","scale":{"domain":[0.243,4.21],"reverse":true,"nice":false,"zero":false},"axis":null},"text":{"field":"t"}},
"layer":[
{"data":{"values":[{"line":1,"t":"Fig.·S1"}]},"mark":{"type":"text","align":"left","font":"Liberation Serif","fontSize":40.3,"fontWeight":"bold","color":"#000"}},
{"data":{"values":[{"line":1,"t":".·Temporal·evolution·of·the·2-m·air·temperature·anomalies·and·corresponding·"}]},"mark":{"type":"text","align":"left","font":"Liberation Serif","fontSize":41.2,"color":"#000"},"encoding":{"x":{"datum":139,"type":"quantitative"}}},
{"data":{"values":[{"line":2,"t":"affected·areas·in·the·Yangtze·River·Delta·(YRD)·in·2022·summer·based·on·ERA5·data.·"}]},"mark":{"type":"text","align":"left","font":"Liberation Serif","fontSize":39.85,"color":"#000"}},
{"data":{"values":[{"line":3,"t":"The·gray·dotted·lines·represent·the·two·identified·heatwave,·i.e.,·the·July·12-14·and·"}]},"mark":{"type":"text","align":"left","font":"Liberation Serif","fontSize":41.7,"color":"#000"}},
{"data":{"values":[{"line":4,"t":"August·8-15."}]},"mark":{"type":"text","align":"left","font":"Liberation Serif","fontSize":40.7,"color":"#000"}},
{"data":{"values":[{"line":0.25,"t":"↵"}]},"mark":{"type":"text","align":"left","font":"DejaVu Sans","fontSize":40,"color":"#9A9A9A"},"encoding":{"x":{"datum":1455,"type":"quantitative"}}},
{"data":{"values":[{"line":4,"t":"↵"}]},"mark":{"type":"text","align":"left","font":"DejaVu Sans","fontSize":40,"color":"#9A9A9A"},"encoding":{"x":{"datum":231,"type":"quantitative"}}},
{"data":{"values":[{"line":4.07,"t":"CSDN @WW、forever"}]},"mark":{"type":"text","align":"right","font":"Noto Sans CJK SC","fontSize":28.4,"color":"#D0D0D0"},"encoding":{"x":{"datum":1539,"type":"quantitative"}}}
]}
]}
